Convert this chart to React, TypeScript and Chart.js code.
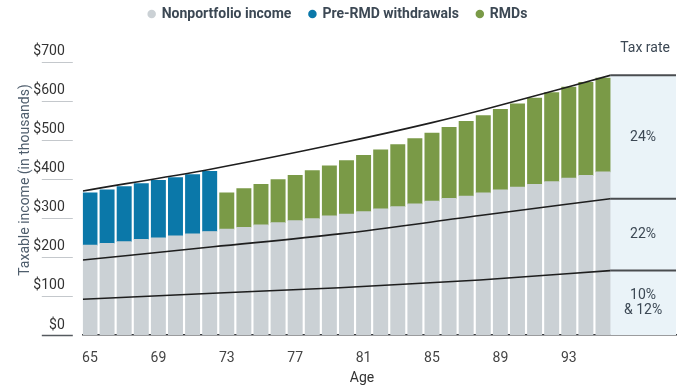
import { useEffect, useRef } from "react";
import { Chart, registerables } from "chart.js";

Chart.register(...registerables);

// ---- Data (values in $ thousands) ----
const ages = [65, 66, 67, 68, 69, 70, 71, 72, 73, 74, 75, 76, 77, 78, 79, 80, 81, 82, 83, 84, 85, 86, 87, 88, 89, 90, 91, 92, 93, 94, 95];
const nonportfolioIncome = [230, 235, 239, 245, 249, 254, 259, 265, 271, 276, 282, 288, 293, 298, 305, 310, 316, 323, 329, 336, 343, 350, 356, 364, 372, 379, 386, 393, 402, 409, 418];
const preRmdAges = [65, 66, 67, 68, 69, 70, 71, 72];
const preRmdWithdrawals = [134, 137, 141, 143, 147, 149, 152, 154];
const rmdAges = [73, 74, 75, 76, 77, 78, 79, 80, 81, 82, 83, 84, 85, 86, 87, 88, 89, 90, 91, 92, 93, 94, 95];
const rmds = [93, 99, 104, 110, 116, 123, 128, 137, 144, 151, 159, 167, 174, 182, 191, 198, 206, 213, 221, 228, 233, 238, 240];

// Tax bracket upper limits (curves)
const bracket24Ages = [64.58, 72.2, 79.6, 85, 88, 95.42];
const bracket24Values = [369, 426, 491, 544, 577, 665];
const bracket22Ages = [64.58, 72.2, 79.6, 87.8, 95.42];
const bracket22Values = [192, 226, 259, 306, 349];
const bracket12Ages = [64.58, 72.2, 79.6, 87.8, 95.42];
const bracket12Values = [91.5, 107, 121, 141, 165];

const panelAges = [95.42, 99.27];
const taxRateLabels = ["24%", "22%", "10%\n& 12%"];
const xTickValues = [65, 69, 73, 77, 81, 85, 89, 93];
const yTickValues = [0, 100, 200, 300, 400, 500, 600, 700];

const FONT = "Roboto, 'Liberation Sans', Arial, sans-serif";
const TEXT = "#3c4854";

const endValue = (arr: number[]) => arr[arr.length - 1];

const decor = {
  id: "decor",
  afterInit(chart: any) {
    const lg = chart.legend;
    if (lg) {
      const orig = lg.fit;
      lg.fit = function () {
        orig.call(this);
        this.height = 61.7;
      };
    }
  },
  afterLayout(chart: any) {
    const lg = chart.legend;
    if (lg) {
      lg.top = -11;
    }
  },
  beforeDatasetsDraw(chart: any) {
    const { ctx, scales } = chart;
    const x = scales.x;
    const y = scales.y;
    const x0 = x.getPixelForValue(panelAges[0]);
    const x1 = x.getPixelForValue(panelAges[1]);
    const yTop = y.getPixelForValue(endValue(bracket24Values));
    const yBot = y.getPixelForValue(0);
    ctx.save();
    ctx.fillStyle = "#eaf3f8";
    ctx.fillRect(x0, yTop, x1 - x0, yBot - yTop);
    ctx.restore();
  },
  afterDraw(chart: any) {
    const { ctx, scales, chartArea } = chart;
    const x = scales.x;
    const y = scales.y;
    ctx.save();
    // y tick underlines
    yTickValues.forEach((v) => {
      const py = Math.round(y.getPixelForValue(v)) + 0.5;
      ctx.beginPath();
      ctx.strokeStyle = v === 0 ? "#555a5f" : "#c4c8cc";
      ctx.lineWidth = v === 0 ? 1.5 : 1;
      ctx.moveTo(chartArea.left - 41, py);
      ctx.lineTo(chartArea.left - 10, py);
      ctx.stroke();
    });
    // y title
    ctx.save();
    ctx.translate(25, 180);
    ctx.rotate(-Math.PI / 2);
    ctx.font = `14px ${FONT}`;
    ctx.fillStyle = "#4f5e6d";
    ctx.textAlign = "center";
    ctx.textBaseline = "middle";
    ctx.fillText("Taxable income (in thousands)", 0, 0);
    ctx.restore();
    // x title
    ctx.font = `14px ${FONT}`;
    ctx.fillStyle = "#333";
    ctx.textAlign = "center";
    ctx.textBaseline = "middle";
    ctx.fillText("Age", 362, 378);
    // Tax rate header
    const pcx = (x.getPixelForValue(panelAges[0]) + x.getPixelForValue(panelAges[1])) / 2;
    ctx.fillStyle = TEXT;
    ctx.fillText("Tax rate", pcx + 2, 48);
    // panel labels
    const bounds = [
      [endValue(bracket22Values), endValue(bracket24Values)],
      [endValue(bracket12Values), endValue(bracket22Values)],
      [0, endValue(bracket12Values)],
    ];
    taxRateLabels.forEach((lbl, i) => {
      const cy = (y.getPixelForValue(bounds[i][0]) + y.getPixelForValue(bounds[i][1])) / 2;
      const lines = lbl.split("\n");
      lines.forEach((ln, j) => {
        ctx.fillText(ln, pcx, cy + (j - (lines.length - 1) / 2) * 15);
      });
    });
    ctx.restore();
  },
};

const curve = (xs: number[], ys: number[]) => xs.map((a, i) => ({ x: a, y: ys[i] }));

export default function App() {
  const ref = useRef<HTMLCanvasElement | null>(null);
  useEffect(() => {
    if (!ref.current) return;
    const lineBase = {
      type: "line" as const,
      yAxisID: "yl",
      pointRadius: 0,
      borderColor: "#1e1e1e",
      borderWidth: 1.6,
      cubicInterpolationMode: "monotone" as const,
      fill: false,
      order: 0,
      label: "",
    };
    const flat = (v: number) => ({
      ...lineBase,
      data: panelAges.map((a) => ({ x: a, y: v })),
      borderColor: "#4a4d50",
      borderWidth: 2,
      cubicInterpolationMode: "default" as const,
      tension: 0,
    });
    const chart = new Chart(ref.current, {
      type: "bar",
      data: {
        datasets: [
          {
            label: "Nonportfolio income",
            data: ages.map((a, i) => ({ x: a, y: nonportfolioIncome[i] })),
            backgroundColor: "#cbd1d5",
            barThickness: 14.3,
            order: 1,
          },
          {
            label: "Pre-RMD withdrawals",
            data: preRmdAges.map((a, i) => ({ x: a, y: preRmdWithdrawals[i] })),
            backgroundColor: "#0b78a9",
            barThickness: 14.3,
            order: 1,
          },
          {
            label: "RMDs",
            data: rmdAges.map((a, i) => ({ x: a, y: rmds[i] })),
            backgroundColor: "#7a9a47",
            barThickness: 14.3,
            order: 1,
          },
          { ...lineBase, data: curve(bracket24Ages, bracket24Values) },
          { ...lineBase, data: curve(bracket22Ages, bracket22Values) },
          { ...lineBase, data: curve(bracket12Ages, bracket12Values) },
          flat(endValue(bracket24Values)),
          flat(endValue(bracket22Values)),
          flat(endValue(bracket12Values)),
        ] as any,
      },
      options: {
        animation: false,
        responsive: true,
        maintainAspectRatio: false,
        events: [],
        layout: { padding: { top: 0, left: 0, right: 24, bottom: 0 } },
        plugins: {
          tooltip: { enabled: false },
          title: { display: false },
          legend: {
            display: true,
            position: "top",
            align: "center",
            labels: {
              usePointStyle: true,
              pointStyle: "circle",
              boxWidth: 6,
              boxHeight: 6,
              padding: 18,
              color: TEXT,
              font: { family: FONT, size: 14, weight: "bold" },
              filter: (item: any) => !!item.text,
            },
          },
        },
        scales: {
          x: {
            type: "linear",
            stacked: true,
            offset: false,
            min: 64.58,
            max: 99.27,
            grid: { display: false, offset: false },
            border: { display: true, color: "#383b3e", width: 1.5 },
            afterBuildTicks: (scale: any) => {
              scale.ticks = xTickValues.map((v) => ({ value: v }));
            },
            afterFit: (scale: any) => {
              scale.height = 57;
            },
            ticks: {
              autoSkip: false,
              maxRotation: 0,
              padding: 7,
              color: "#444",
              font: { family: FONT, size: 14 },
              callback: (v: any) => String(v),
            },
          },
          y: {
            stacked: true,
            min: 0,
            max: 700,
            grid: { display: false },
            border: { display: false },
            afterBuildTicks: (scale: any) => {
              scale.ticks = yTickValues.map((v) => ({ value: v }));
            },
            afterFit: (scale: any) => {
              scale.width = 82.8;
            },
            ticks: {
              padding: 10,
              labelOffset: -10,
              color: "#333",
              font: { family: FONT, size: 14 },
              callback: (v: any) => "$" + v,
            },
          },
          yl: {
            display: false,
            stacked: false,
            min: 0,
            max: 700,
          },
        },
      },
      plugins: [decor],
    } as any);
    return () => chart.destroy();
  }, []);
  return (
    <div style={{ position: "fixed", left: 0, top: 0, width: 700, height: 392, background: "#fff" }}>
      <canvas ref={ref} />
    </div>
  );
}
